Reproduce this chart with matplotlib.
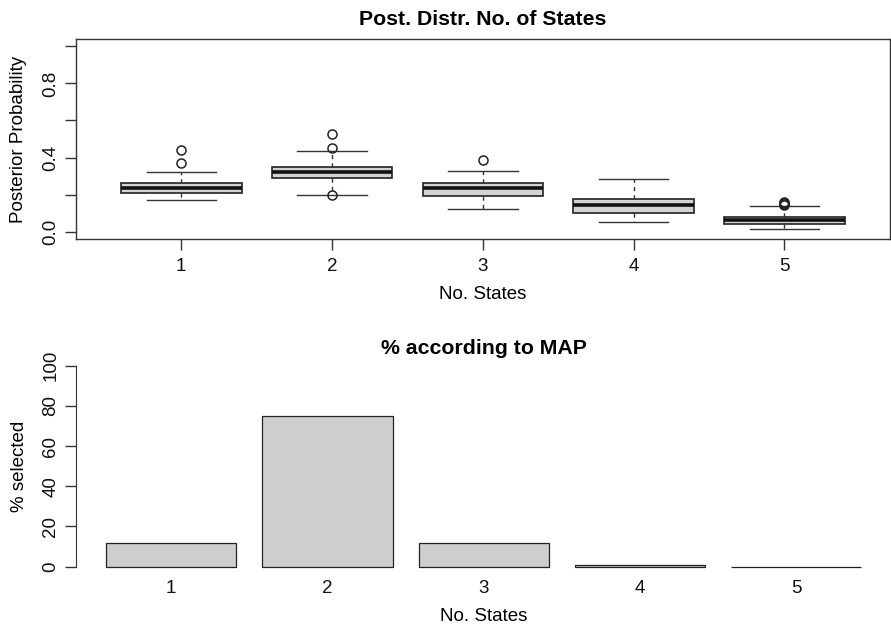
import matplotlib
matplotlib.use("Agg")
import matplotlib.pyplot as plt

plt.rcParams['font.family'] = ['Liberation Sans', 'DejaVu Sans']

# Posterior probability summaries per number of states
states = [1, 2, 3, 4, 5]
q1 = [0.207, 0.288, 0.193, 0.102, 0.041]
median = [0.2375, 0.320, 0.234, 0.141, 0.062]
q3 = [0.261, 0.348, 0.261, 0.177, 0.078]
whisker_low = [0.168, 0.197, 0.120, 0.052, 0.014]
whisker_high = [0.320, 0.434, 0.327, 0.284, 0.136]
outliers = [
    [0.373, 0.443],
    [0.450, 0.529, 0.195],
    [0.384],
    [],
    [0.145, 0.150, 0.155, 0.160],
]

# Share of runs in which each number of states was the MAP choice
pct_selected = [12, 75, 12, 1, 0]

y_ticks_top = [0.0, 0.2, 0.4, 0.6, 0.8, 1.0]
y_ticklabels_top = ["0.0", "", "0.4", "", "0.8", ""]
y_ticks_bot = [0, 20, 40, 60, 80, 100]

AX_COL = "#333333"
FS = 13.5
TFS = 15.3

fig = plt.figure(figsize=(8.91, 6.25), dpi=100)

# ---- Top panel: boxplots ----
ax1 = fig.add_axes([75.7 / 891, (625 - 239) / 625, (890 - 75.7) / 891, 200 / 625])
stats = []
for i in range(len(states)):
    stats.append(dict(med=median[i], q1=q1[i], q3=q3[i],
                      whislo=whisker_low[i], whishi=whisker_high[i],
                      fliers=outliers[i], label=str(states[i])))
ax1.bxp(stats, positions=states, widths=0.8, patch_artist=True,
        boxprops=dict(facecolor="#d3d3d3", edgecolor="#222222", linewidth=1.2),
        medianprops=dict(color="#111111", linewidth=2.6),
        whiskerprops=dict(color="#333333", linestyle=(0, (3, 3)), linewidth=1.0),
        capprops=dict(color="#333333", linewidth=1.0),
        flierprops=dict(marker="o", markerfacecolor="none", markeredgecolor="#222222",
                        markersize=6.5, markeredgewidth=1.1),
        capwidths=0.46)
ax1.set_xlim(0.3, 5.7)
ax1.set_ylim(-0.04, 1.04)
ax1.set_yticks(y_ticks_top)
ax1.set_yticklabels(y_ticklabels_top, rotation=90, va="center")
ax1.set_xticks(states)
ax1.set_xticklabels([str(s) for s in states])
for sp in ax1.spines.values():
    sp.set_color(AX_COL)
    sp.set_linewidth(1.0)
ax1.tick_params(axis="both", colors=AX_COL, labelcolor="#111111", labelsize=FS,
                length=8, width=1.0)
ax1.tick_params(axis="x", pad=5.5)
ax1.tick_params(axis="y", pad=4)
ax1.set_title("Post. Distr. No. of States", fontsize=TFS, fontweight="bold", pad=10)
ax1.set_xlabel("No. States", fontsize=FS, labelpad=8)
ax1.set_ylabel("Posterior Probability", fontsize=FS, labelpad=10.5)

# ---- Bottom panel: bar chart ----
ax2 = fig.add_axes([76 / 891, (625 - 574.7) / 625, 815.5 / 891, 217 / 625])
bar_pos = [0.7 + 1.2 * i for i in range(len(states))]
ax2.bar(bar_pos, pct_selected, width=1.0, color="#cdcfce", edgecolor="#222222",
        linewidth=0.9)
ax2.set_xlim(-0.032, 6.232)
ax2.set_ylim(-4, 104)
ax2.set_yticks(y_ticks_bot)
ax2.set_yticklabels([str(v) for v in y_ticks_bot], rotation=90, va="center")
ax2.set_xticks(bar_pos)
ax2.set_xticklabels([str(s) for s in states])
for side in ["top", "right", "bottom"]:
    ax2.spines[side].set_visible(False)
ax2.spines["left"].set_bounds(0, 100)
ax2.spines["left"].set_color(AX_COL)
ax2.tick_params(axis="y", colors=AX_COL, labelcolor="#111111", labelsize=FS,
                length=8, width=1.0, pad=4)
ax2.tick_params(axis="x", length=0, labelsize=FS, labelcolor="#111111", pad=4)
ax2.set_title("% according to MAP", fontsize=TFS, fontweight="bold", pad=3)
ax2.set_xlabel("No. States", fontsize=FS, labelpad=7.5)
ax2.set_ylabel("% selected", fontsize=FS, labelpad=10.5)

fig.savefig("out.png", dpi=100)
